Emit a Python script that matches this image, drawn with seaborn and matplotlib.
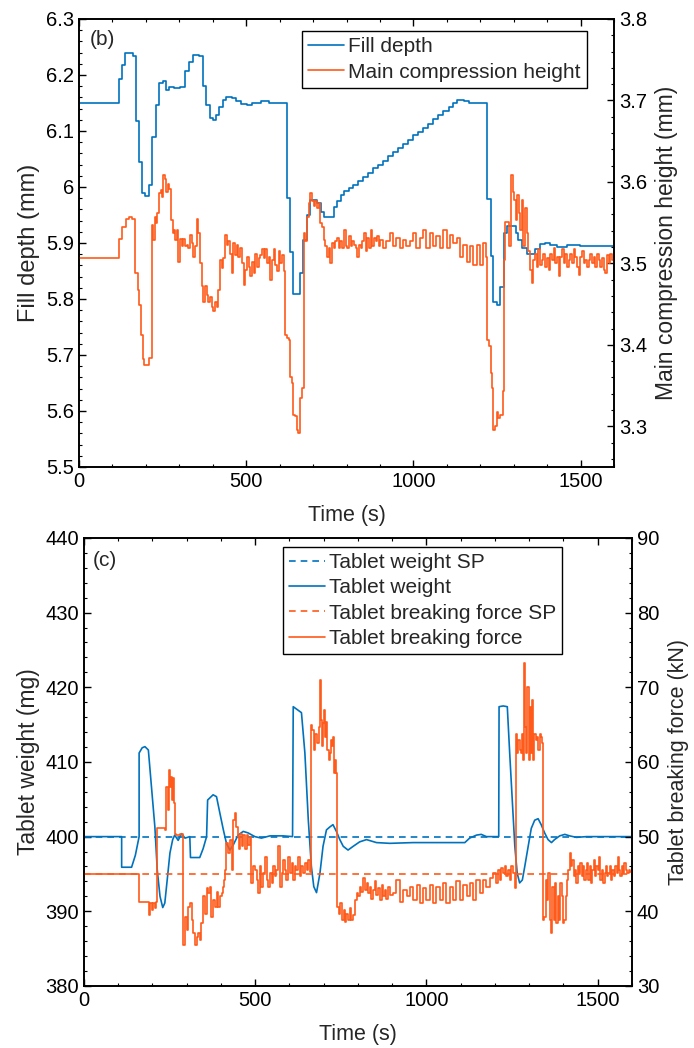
import numpy as np
import pandas as pd
import matplotlib
matplotlib.use('Agg')
import matplotlib.pyplot as plt
import seaborn as sns
from matplotlib.ticker import MultipleLocator, FuncFormatter

# values (time in s)

fill_time = [
    0, 121, 128, 138, 148, 163, 171, 180, 188, 198,
    210, 218, 231, 238, 251, 261, 268, 283, 303, 318,
    330, 340, 358, 370, 380, 391, 401, 410, 420, 430,
    440, 458, 470, 483, 503, 518, 543, 568, 621, 631,
    641, 661, 671, 681, 691, 711, 723, 733, 763, 773,
    783, 793, 808, 820, 835, 850, 865, 880, 895, 910,
    925, 940, 955, 970, 985, 1000, 1015, 1030, 1045, 1060,
    1075, 1090, 1105, 1118, 1130, 1150, 1165, 1221, 1231, 1237,
    1250, 1259, 1271, 1281, 1306, 1314, 1324, 1339, 1363, 1378,
    1393, 1408, 1428, 1458, 1498, 1600]
fill_depth = [
    6.150, 6.193, 6.217, 6.239, 6.240, 6.233, 6.117, 6.044, 5.990, 5.984,
    6.004, 6.089, 6.146, 6.186, 6.190, 6.173, 6.178, 6.176, 6.179, 6.207,
    6.224, 6.236, 6.233, 6.180, 6.146, 6.124, 6.120, 6.129, 6.142, 6.156,
    6.161, 6.158, 6.153, 6.148, 6.147, 6.150, 6.153, 6.150, 5.980, 5.883,
    5.809, 5.847, 5.905, 5.950, 5.977, 5.971, 5.956, 5.947, 5.965, 5.975,
    5.986, 5.992, 5.998, 6.003, 6.010, 6.018, 6.025, 6.033, 6.040, 6.047,
    6.055, 6.062, 6.070, 6.077, 6.084, 6.092, 6.099, 6.106, 6.113, 6.121,
    6.128, 6.136, 6.143, 6.150, 6.156, 6.153, 6.150, 5.978, 5.876, 5.795,
    5.790, 5.821, 5.918, 5.930, 5.918, 5.905, 5.891, 5.880, 5.889, 5.898,
    5.900, 5.896, 5.892, 5.896, 5.894, 5.894]

comp_time = [
    0, 121, 130, 140, 150, 160, 169, 175, 180, 185,
    190, 194, 210, 219, 222, 227, 230, 234, 238, 244,
    248, 252, 257, 260, 265, 270, 275, 280, 284, 288,
    292, 297, 302, 307, 312, 317, 322, 327, 332, 337,
    342, 347, 352, 357, 362, 367, 372, 377, 382, 387,
    392, 397, 402, 407, 412, 417, 422, 427, 432, 437,
    442, 447, 452, 457, 462, 467, 472, 477, 482, 487,
    492, 497, 502, 507, 512, 517, 522, 527, 532, 537,
    542, 547, 552, 557, 562, 567, 572, 577, 582, 587,
    592, 597, 602, 607, 612, 617, 622, 627, 632, 637,
    640, 647, 652, 656, 660, 667, 672, 677, 682, 687,
    692, 697, 702, 707, 712, 717, 722, 727, 732, 737,
    742, 747, 752, 757, 762, 767, 772, 777, 782, 787,
    792, 797, 802, 807, 812, 817, 822, 827, 832, 837,
    842, 847, 852, 857, 862, 867, 872, 877, 882, 887,
    892, 897, 899, 909, 919, 929, 939, 949, 959, 969,
    979, 989, 999, 1009, 1019, 1029, 1039, 1049, 1059, 1069,
    1079, 1089, 1099, 1109, 1119, 1129, 1139, 1149, 1159, 1169,
    1179, 1189, 1199, 1209, 1217, 1221, 1227, 1231, 1235, 1239,
    1244, 1249, 1254, 1259, 1267, 1271, 1274, 1281, 1287, 1292,
    1297, 1302, 1307, 1311, 1316, 1319, 1324, 1329, 1334, 1339,
    1344, 1349, 1354, 1359, 1364, 1369, 1374, 1379, 1384, 1389,
    1394, 1399, 1404, 1409, 1414, 1419, 1424, 1429, 1434, 1439,
    1444, 1449, 1454, 1459, 1464, 1469, 1474, 1479, 1484, 1489,
    1494, 1499, 1504, 1509, 1514, 1519, 1524, 1529, 1534, 1539,
    1544, 1549, 1554, 1559, 1564, 1569, 1574, 1579, 1584, 1589,
    1594, 1600]
comp_height = [
    3.506, 3.530, 3.545, 3.555, 3.557, 3.555, 3.488, 3.467, 3.449, 3.412,
    3.382, 3.375, 3.384, 3.547, 3.529, 3.557, 3.549, 3.562, 3.586, 3.590,
    3.582, 3.609, 3.603, 3.588, 3.598, 3.591, 3.553, 3.537, 3.541, 3.529,
    3.541, 3.502, 3.530, 3.521, 3.530, 3.521, 3.523, 3.519, 3.535, 3.525,
    3.508, 3.521, 3.555, 3.537, 3.500, 3.472, 3.453, 3.472, 3.461, 3.453,
    3.459, 3.447, 3.441, 3.453, 3.447, 3.467, 3.504, 3.494, 3.506, 3.535,
    3.523, 3.527, 3.512, 3.488, 3.525, 3.510, 3.523, 3.508, 3.519, 3.500,
    3.474, 3.492, 3.508, 3.496, 3.484, 3.502, 3.488, 3.512, 3.496, 3.506,
    3.510, 3.517, 3.506, 3.517, 3.500, 3.508, 3.480, 3.504, 3.517, 3.498,
    3.490, 3.515, 3.500, 3.510, 3.490, 3.412, 3.408, 3.406, 3.361, 3.353,
    3.314, 3.312, 3.296, 3.292, 3.335, 3.347, 3.537, 3.527, 3.557, 3.574,
    3.586, 3.576, 3.570, 3.576, 3.568, 3.574, 3.549, 3.545, 3.529, 3.521,
    3.508, 3.519, 3.500, 3.525, 3.519, 3.527, 3.531, 3.519, 3.527, 3.519,
    3.541, 3.521, 3.519, 3.533, 3.521, 3.527, 3.523, 3.519, 3.508, 3.523,
    3.519, 3.527, 3.537, 3.515, 3.531, 3.519, 3.541, 3.521, 3.531, 3.527,
    3.533, 3.521, 3.529, 3.519, 3.527, 3.537, 3.521, 3.531, 3.519, 3.529,
    3.521, 3.527, 3.537, 3.519, 3.531, 3.541, 3.519, 3.537, 3.521, 3.533,
    3.519, 3.541, 3.519, 3.535, 3.525, 3.531, 3.508, 3.523, 3.502, 3.521,
    3.498, 3.523, 3.498, 3.525, 3.508, 3.406, 3.398, 3.365, 3.347, 3.296,
    3.300, 3.318, 3.310, 3.314, 3.343, 3.504, 3.551, 3.551, 3.521, 3.609,
    3.588, 3.578, 3.553, 3.584, 3.562, 3.541, 3.578, 3.521, 3.568, 3.537,
    3.515, 3.492, 3.476, 3.504, 3.512, 3.496, 3.517, 3.498, 3.504, 3.512,
    3.496, 3.506, 3.492, 3.512, 3.504, 3.519, 3.500, 3.508, 3.484, 3.508,
    3.517, 3.500, 3.512, 3.496, 3.504, 3.512, 3.500, 3.517, 3.508, 3.496,
    3.486, 3.508, 3.515, 3.500, 3.504, 3.496, 3.504, 3.512, 3.500, 3.508,
    3.496, 3.512, 3.504, 3.496, 3.506, 3.492, 3.488, 3.510, 3.500, 3.512,
    3.504, 3.500]

weight_time = [
    0, 110, 110, 139, 150, 161, 161, 170, 178, 188,
    197, 207, 214, 222, 230, 236, 243, 251, 259, 265,
    275, 285, 295, 309, 311, 338, 348, 358, 361, 377,
    387, 397, 407, 416, 426, 436, 450, 465, 479, 499,
    518, 543, 582, 609, 611, 635, 645, 655, 664, 671,
    679, 689, 698, 708, 718, 727, 737, 747, 757, 771,
    786, 805, 825, 854, 893, 961, 1112, 1126, 1146, 1160,
    1175, 1211, 1212, 1224, 1236, 1243, 1251, 1258, 1265, 1272,
    1280, 1287, 1297, 1306, 1316, 1326, 1335, 1345, 1355, 1365,
    1374, 1389, 1404, 1418, 1438, 1467, 1600]
weight = [
    400.0, 400.0, 395.9, 395.9, 397.5, 400.0, 411.2, 411.9, 412.05, 411.6,
    406.7, 401.3, 395.5, 392.0, 390.5, 391.1, 394.2, 397.8, 399.6, 400.2,
    399.5, 400.4, 399.8, 400.0, 397.2, 397.2, 398.4, 400.0, 404.9, 405.6,
    405.35, 403.1, 400.9, 399.1, 398.2, 398.9, 400.2, 400.7, 400.5, 400.0,
    399.8, 400.1, 400.1, 400.0, 417.4, 416.6, 411.2, 402.2, 396.0, 393.3,
    392.5, 395.1, 398.7, 400.9, 401.3, 401.6, 400.7, 399.6, 398.7, 398.2,
    398.7, 399.3, 399.6, 399.2, 399.1, 399.2, 399.2, 399.8, 400.2, 400.3,
    400.0, 400.0, 417.4, 417.5, 417.4, 411.2, 404.5, 398.7, 395.1, 393.8,
    394.2, 396.0, 398.7, 401.1, 402.2, 402.4, 401.6, 400.5, 399.6, 399.2,
    399.6, 400.1, 400.3, 400.1, 399.9, 400.0, 400.0]

force_time = [
    0, 161, 188, 190, 194, 198, 202, 206, 210, 214,
    236, 239, 244, 248, 251, 254, 257, 261, 264, 266,
    270, 280, 288, 290, 295, 300, 304, 309, 314, 319,
    324, 329, 334, 338, 343, 348, 353, 358, 363, 368,
    372, 377, 382, 387, 392, 397, 402, 406, 409, 413,
    416, 421, 426, 431, 436, 441, 445, 450, 453, 457,
    461, 465, 470, 475, 479, 484, 489, 494, 499, 504,
    509, 513, 518, 523, 528, 533, 538, 543, 548, 552,
    557, 562, 567, 572, 577, 582, 587, 591, 596, 601,
    606, 611, 616, 620, 625, 630, 635, 640, 645, 650,
    655, 659, 662, 666, 671, 676, 681, 685, 689, 692,
    695, 698, 701, 705, 708, 711, 715, 718, 721, 725,
    727, 731, 734, 737, 740, 745, 749, 754, 759, 762,
    766, 771, 776, 781, 786, 791, 796, 800, 805, 810,
    815, 820, 825, 830, 835, 839, 844, 849, 854, 859,
    864, 869, 873, 878, 883, 888, 893, 903, 912, 922,
    932, 942, 951, 961, 971, 980, 990, 1000, 1010, 1019,
    1029, 1039, 1049, 1058, 1068, 1078, 1087, 1097, 1107, 1117,
    1126, 1136, 1146, 1156, 1165, 1175, 1185, 1194, 1204, 1209,
    1214, 1219, 1224, 1229, 1233, 1238, 1243, 1248, 1253, 1258,
    1261, 1265, 1268, 1272, 1276, 1279, 1282, 1285, 1288, 1292,
    1295, 1298, 1301, 1304, 1307, 1311, 1315, 1319, 1323, 1327,
    1331, 1335, 1338, 1340, 1344, 1348, 1352, 1356, 1360, 1363,
    1367, 1371, 1375, 1379, 1383, 1387, 1391, 1395, 1399, 1402,
    1406, 1410, 1413, 1418, 1422, 1426, 1430, 1434, 1438, 1442,
    1446, 1449, 1453, 1457, 1461, 1465, 1469, 1473, 1477, 1481,
    1484, 1488, 1492, 1496, 1500, 1504, 1508, 1512, 1516, 1520,
    1523, 1527, 1531, 1535, 1539, 1543, 1547, 1551, 1555, 1558,
    1562, 1566, 1570, 1574, 1578, 1582, 1586, 1590, 1594, 1600]
force = [
    45.0, 41.2, 41.2, 39.5, 41.1, 40.2, 41.1, 40.4, 41.2, 51.1,
    50.9, 56.7, 53.6, 58.9, 56.7, 58.0, 54.9, 57.8, 54.5, 50.4,
    50.2, 50.4, 50.2, 35.5, 39.3, 37.5, 40.6, 41.1, 38.8, 37.1,
    35.5, 36.6, 37.1, 36.2, 38.4, 42.0, 39.7, 43.1, 42.4, 43.3,
    39.3, 41.5, 40.6, 42.6, 40.6, 42.0, 42.4, 43.3, 44.2, 45.5,
    49.1, 47.8, 49.5, 45.5, 52.2, 53.1, 51.3, 50.0, 48.4, 50.4,
    48.7, 50.2, 48.4, 50.2, 48.9, 50.0, 43.8, 46.0, 45.5, 44.2,
    42.4, 46.0, 43.3, 45.1, 47.3, 44.2, 43.3, 45.1, 43.8, 46.0,
    44.7, 45.5, 48.7, 43.3, 45.1, 46.9, 45.5, 44.2, 47.3, 45.1,
    46.4, 44.2, 46.0, 45.5, 47.3, 44.7, 46.0, 45.1, 46.4, 45.5,
    46.9, 45.3, 65.0, 64.3, 61.6, 63.8, 62.5, 64.7, 71.0, 65.6,
    62.1, 65.2, 67.0, 63.4, 65.4, 61.6, 60.3, 61.2, 63.0, 62.1,
    63.4, 58.5, 60.3, 58.5, 40.6, 39.7, 41.1, 38.8, 40.2, 38.6,
    39.7, 38.8, 40.4, 38.8, 39.5, 41.5, 42.4, 42.0, 43.3, 42.6,
    44.4, 42.9, 43.8, 42.4, 43.3, 41.7, 42.9, 44.0, 42.2, 43.1,
    41.5, 43.5, 42.0, 42.9, 41.7, 43.3, 42.2, 42.4, 44.2, 41.3,
    42.9, 42.0, 43.3, 41.5, 43.5, 41.1, 43.1, 41.5, 43.5, 41.1,
    43.3, 41.5, 43.8, 41.1, 43.3, 41.5, 44.0, 41.5, 43.5, 42.0,
    43.8, 41.5, 44.2, 42.4, 44.2, 43.3, 44.4, 45.1, 43.8, 45.5,
    44.2, 45.8, 45.1, 46.0, 44.7, 45.5, 44.2, 46.0, 45.1, 43.1,
    63.8, 61.2, 63.0, 61.6, 61.2, 63.8, 60.3, 73.2, 64.7, 61.2,
    70.1, 60.3, 67.4, 61.2, 68.3, 60.3, 63.8, 63.0, 63.4, 61.6,
    63.8, 63.4, 62.5, 38.8, 39.3, 44.2, 41.5, 45.1, 38.8, 37.1,
    43.3, 38.8, 43.8, 38.4, 42.0, 38.8, 43.8, 42.0, 38.4, 38.8,
    42.0, 44.2, 45.5, 47.8, 46.0, 46.9, 44.7, 45.5, 43.8, 46.0,
    45.1, 46.4, 44.7, 46.0, 44.2, 45.5, 46.4, 44.2, 46.0, 43.8,
    45.5, 46.9, 44.7, 46.0, 45.5, 47.3, 44.2, 45.5, 43.8, 45.1,
    46.0, 44.7, 45.1, 46.0, 44.2, 45.5, 44.7, 46.0, 45.1, 47.3,
    45.5, 44.7, 46.0, 45.1, 46.4, 45.5, 45.1, 45.5, 45.3, 45.3]

sp_time = [0, 1600]
weight_sp = [400, 400]
force_sp = [45, 45]

BLUE = '#0072BD'
ORANGE = '#FF5A1A'

sns.set_theme(style='ticks')
plt.rcParams['font.family'] = ['Liberation Sans', 'DejaVu Sans']
plt.rcParams['axes.linewidth'] = 1.2
plt.rcParams['axes.edgecolor'] = 'black'

fmt = FuncFormatter(lambda v, _: f'{round(v, 3):g}')
TICK_FS = 14.5


def style_axes(ax, axr, ymaj, ymin, rmaj, rmin):
    ax.set_xlim(0, 1600)
    ax.xaxis.set_major_locator(MultipleLocator(500))
    ax.xaxis.set_minor_locator(MultipleLocator(100))
    ax.yaxis.set_major_locator(MultipleLocator(ymaj))
    ax.yaxis.set_minor_locator(MultipleLocator(ymin))
    axr.yaxis.set_major_locator(MultipleLocator(rmaj))
    axr.yaxis.set_minor_locator(MultipleLocator(rmin))
    ax.yaxis.set_major_formatter(fmt)
    axr.yaxis.set_major_formatter(fmt)
    ax.tick_params(which='both', direction='in', top=True, right=False,
                   colors='black', labelsize=TICK_FS)
    ax.tick_params(which='major', length=5, width=1)
    ax.tick_params(which='minor', length=2.5, width=0.8)
    axr.tick_params(which='both', direction='in', colors='black',
                    labelsize=TICK_FS)
    axr.tick_params(which='major', length=5, width=1)
    axr.tick_params(which='minor', length=2.5, width=0.8)
    for a in (ax, axr):
        for s in a.spines.values():
            s.set_color('black')
            s.set_linewidth(1.2)


leg_kw = dict(loc='upper left', fontsize=15, frameon=True, fancybox=False,
              edgecolor='black', framealpha=1, handlelength=1.7,
              handletextpad=0.2, labelspacing=0.3, borderpad=0.3,
              borderaxespad=0)

fig = plt.figure(figsize=(6.94, 10.48), dpi=100)

# ---- panel (b)
ax1 = fig.add_axes([0.1138, 0.5544, 0.771, 0.4275])
ax1r = ax1.twinx()

sns.lineplot(x=fill_time, y=fill_depth, ax=ax1, color=BLUE, lw=1.2,
             drawstyle='steps-post', estimator=None, sort=False)
sns.lineplot(x=comp_time, y=comp_height, ax=ax1r, color=ORANGE, lw=1.2,
             drawstyle='steps-post', estimator=None, sort=False)
ax1.set_ylim(5.5, 6.3)
ax1r.set_ylim(3.25, 3.8)
style_axes(ax1, ax1r, 0.1, 0.02, 0.1, 0.02)
ax1.set_xlabel('Time (s)', fontsize=15.5, labelpad=10)
ax1.set_ylabel('Fill depth (mm)', fontsize=17, labelpad=4)
ax1r.set_ylabel('Main compression height (mm)', fontsize=16.5, labelpad=6)
ax1.text(0.02, 0.975, '(b)', transform=ax1.transAxes, va='top', ha='left',
         fontsize=15)
leg1 = ax1r.legend([ax1.get_lines()[0], ax1r.get_lines()[0]],
                   ['Fill depth', 'Main compression height'],
                   bbox_to_anchor=(0.417, 0.973), **leg_kw)
leg1.get_frame().set_linewidth(1.0)

# ---- panel (c)
ax2 = fig.add_axes([0.121, 0.0592, 0.7896, 0.4275])
ax2r = ax2.twinx()

sns.lineplot(x=sp_time, y=weight_sp, ax=ax2, color=BLUE, lw=1.2,
             linestyle=(0, (4, 3)), estimator=None, sort=False)
sns.lineplot(x=weight_time, y=weight, ax=ax2, color=BLUE, lw=1.2,
             estimator=None, sort=False)
sns.lineplot(x=sp_time, y=force_sp, ax=ax2r, color=ORANGE, lw=1.2,
             linestyle=(0, (4, 3)), estimator=None, sort=False)
sns.lineplot(x=force_time, y=force, ax=ax2r, color=ORANGE, lw=1.2,
             drawstyle='steps-post', estimator=None, sort=False)
ax2.set_ylim(380, 440)
ax2r.set_ylim(30, 90)
style_axes(ax2, ax2r, 10, 2, 10, 2)
ax2.set_xlabel('Time (s)', fontsize=15.5, labelpad=10)
ax2.set_ylabel('Tablet weight (mg)', fontsize=16.5, labelpad=4)
ax2r.set_ylabel('Tablet breaking force (kN)', fontsize=15.5, labelpad=6)
ax2.text(0.016, 0.97, '(c)', transform=ax2.transAxes, va='top', ha='left',
         fontsize=15)
l2 = ax2.get_lines()
l2r = ax2r.get_lines()
leg2 = ax2r.legend([l2[0], l2[1], l2r[0], l2r[1]],
                   ['Tablet weight SP', 'Tablet weight',
                    'Tablet breaking force SP', 'Tablet breaking force'],
                   bbox_to_anchor=(0.363, 0.98), **leg_kw)
leg2.get_frame().set_linewidth(1.0)

fig.savefig('out.png', dpi=100)
